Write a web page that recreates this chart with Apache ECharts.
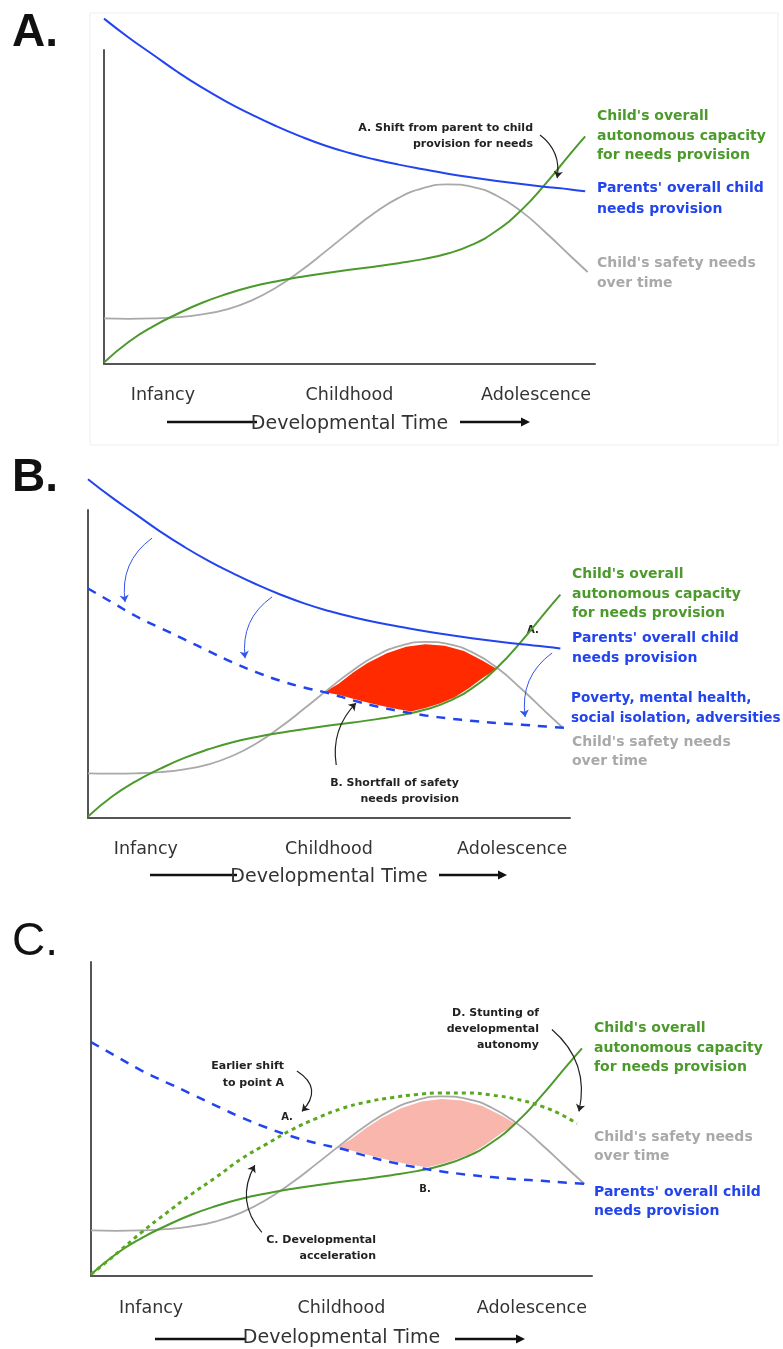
<!DOCTYPE html>
<html>
<head>
<meta charset="utf-8">
<script src="https://cdn.jsdelivr.net/npm/echarts@6/dist/echarts.min.js"></script>
<style>
html, body { margin: 0; padding: 0; background: #fff; }
#main { width: 783px; height: 1349px; }
</style>
</head>
<body>
<div id="main"></div>
<script>
// tick labels on the time axis
var stageValues = [12, 50, 88];
var stageLabels = ['Infancy', 'Childhood', 'Adolescence'];

// curves, [time, level], y axis runs 0..100 (parent line starts above the axis top)
var parentProvision = [[0, 110], [5, 104], [10, 98.5], [15, 93], [20, 88], [25, 83.5], [30, 79.5], [35, 75.8], [40, 72.5], [45, 69.6], [50, 67.2],
    [55, 65.2], [60, 63.5], [65, 62], [70, 60.6], [75, 59.4], [80, 58.3], [85, 57.3], [90, 56.4], [95, 55.6], [98, 55]];
var childCapacity = [[0, 0.5], [5, 7], [10, 12], [15, 16], [20, 19.5], [25, 22.3], [30, 24.6], [35, 26.3], [40, 27.7], [45, 28.9], [50, 30],
    [55, 31], [60, 32.1], [65, 33.4], [70, 35.2], [75, 38], [80, 42.5], [85, 49], [90, 57.5], [95, 67], [98, 72.5]];
var safetyNeeds = [[0, 14.5], [5, 14.4], [10, 14.5], [15, 14.9], [20, 15.8], [25, 17.4], [30, 20.2], [35, 24.3], [40, 29.6], [45, 35.7], [50, 42],
    [55, 48], [60, 52.9], [65, 56], [70, 57.2], [75, 56.4], [80, 53.6], [85, 48.6], [90, 41.8], [95, 34.4], [98.5, 29.3]];
var parentReduced = [[0, 74.5], [5, 70], [10, 65.5], [15, 61.7], [20, 58], [25, 54.2], [30, 50.5], [35, 47.3], [40, 44.5], [45, 42.3], [50, 40.5],
    [55, 38.2], [60, 36.2], [65, 34.6], [70, 33.3], [75, 32.3], [80, 31.5], [85, 30.8], [90, 30.3], [95, 29.7], [99, 29.3]];
var childAccelerated = [[0, 0.5], [5, 7], [10, 13.8], [15, 20], [20, 26], [25, 31.5], [30, 37.3], [35, 42], [40, 46.5], [45, 50.2], [50, 53.3],
    [55, 55.4], [60, 56.8], [65, 57.8], [70, 58.3], [75, 58.3], [80, 57.6], [85, 56.3], [90, 54], [94, 51.3], [97, 48.5]];

// shortfall of safety needs provision (outline of the shaded area)
var shortfallArea = [[49, 40.8], [52, 43.6], [55, 47.2], [58, 50.3], [62, 53.5], [66, 55.6], [70, 56.4], [74, 55.9], [78, 54.2], [82, 51], [84.8, 48.4],
    [82, 45.6], [79, 42.1], [76, 39.1], [73, 37.2], [70, 35.7], [67, 34.6], [63, 35.7], [59, 37.1], [55, 38.7], [52, 40]];

// annotation arrows, [from, to]
var arrowShiftA = [[88.8, 72.9], [92.3, 59.2]];
var arrowsDropB = [[[13.3, 90.9], [7.7, 70.1]], [[38.2, 71.8], [32.6, 51.9]], [[96.3, 53.6], [90.7, 32.8]]];
var arrowShortfallB = [[51.5, 17.2], [55.6, 37.3]];
var arrowStuntingC = [[92, 78.5], [97.4, 52.4]];
var arrowEarlierC = [[41.1, 65.3], [42.1, 52.4]];
var arrowAccelC = [[34.1, 13.9], [32.7, 35.3]];

var FONT = 'DejaVu Sans';
var BLUE = '#2244ee';
var GREEN = '#4b9a2b';
var GRAY = '#a9a9a9';

var myChart = echarts.init(document.getElementById('main'));

function xAxisFor(idx, margin, gap) {
    return {
        gridIndex: idx,
        type: 'value',
        min: 0,
        max: 100,
        name: 'Developmental Time',
        nameLocation: 'middle',
        nameGap: gap,
        nameTextStyle: { fontFamily: FONT, fontSize: 19, color: '#333' },
        axisLine: { lineStyle: { color: '#555', width: 2 } },
        axisTick: { show: false },
        splitLine: { show: false },
        axisLabel: {
            customValues: stageValues,
            formatter: function (v) { return stageLabels[stageValues.indexOf(v)]; },
            fontFamily: FONT,
            fontSize: 17.5,
            color: '#333',
            margin: margin,
        },
    };
}

function yAxisFor(idx) {
    return {
        gridIndex: idx,
        type: 'value',
        min: 0,
        max: 100,
        axisLine: { show: true, lineStyle: { color: '#555', width: 2 } },
        axisTick: { show: false },
        axisLabel: { show: false },
        splitLine: { show: false },
    };
}

function curve(idx, data, color, width, dash) {
    return {
        type: 'line',
        xAxisIndex: idx,
        yAxisIndex: idx,
        data: data,
        smooth: 0.5,
        symbol: 'none',
        clip: false,
        silent: true,
        lineStyle: { color: color, width: width, type: dash || 'solid' },
        z: 3,
    };
}

function arrows(idx, list, color, width, curveness) {
    return {
        type: 'lines',
        coordinateSystem: 'cartesian2d',
        xAxisIndex: idx,
        yAxisIndex: idx,
        symbol: ['none', 'arrow'],
        symbolSize: 7,
        silent: true,
        lineStyle: { color: color, width: width, curveness: curveness, opacity: 1 },
        data: list.map(function (c) { return { coords: c }; }),
        z: 4,
    };
}

function shaded(idx, color) {
    return {
        type: 'custom',
        xAxisIndex: idx,
        yAxisIndex: idx,
        data: shortfallArea,
        silent: true,
        z: 1,
        renderItem: function (params, api) {
            if (params.dataIndex !== 0) return;
            return {
                type: 'polygon',
                shape: { points: shortfallArea.map(function (p) { return api.coord(p); }) },
                style: { fill: color },
            };
        },
    };
}

function text(x, y, str, color, opts) {
    opts = opts || {};
    return {
        type: 'text',
        x: x,
        y: y,
        silent: true,
        style: {
            text: str,
            fill: color,
            font: (opts.weight || 'bold') + ' ' + (opts.size || 14) + 'px "' + (opts.family || FONT) + '"',
            align: opts.align || 'left',
            verticalAlign: 'middle',
            lineHeight: opts.lh || 19.5,
        },
    };
}

function timeArrow(x1, x2, x3, x4, y) {
    return [
        { type: 'line', silent: true, shape: { x1: x1, y1: y, x2: x2, y2: y }, style: { stroke: '#111', lineWidth: 2.5 } },
        { type: 'line', silent: true, shape: { x1: x3, y1: y, x2: x4 - 6, y2: y }, style: { stroke: '#111', lineWidth: 2.5 } },
        { type: 'polygon', silent: true, shape: { points: [[x4 - 9, y - 4.5], [x4, y], [x4 - 9, y + 4.5]] }, style: { fill: '#111' } },
    ];
}

var graphics = [
    { type: 'rect', silent: true, shape: { x: 90, y: 13, width: 688, height: 432 }, style: { fill: 'none', stroke: '#eeeeee', lineWidth: 1 } },

    // panel A
    text(12, 33, 'A.', '#111', { size: 46, family: 'Liberation Sans' }),
    text(533, 136, 'A. Shift from parent to child\nprovision for needs', '#222', { size: 11, align: 'right', lh: 16 }),
    text(597, 136, "Child's overall\nautonomous capacity\nfor needs provision", GREEN),
    text(597, 198.5, "Parents' overall child\nneeds provision", BLUE, { lh: 21 }),
    text(597, 273.5, "Child's safety needs\nover time", GRAY),

    // panel B
    text(12, 478, 'B.', '#111', { size: 46, family: 'Liberation Sans' }),
    text(527, 630, 'A.', '#222', { size: 10 }),
    text(459, 791, 'B. Shortfall of safety\nneeds provision', '#222', { size: 11, align: 'right', lh: 16 }),
    text(572, 594, "Child's overall\nautonomous capacity\nfor needs provision", GREEN),
    text(572, 648.5, "Parents' overall child\nneeds provision", BLUE),
    text(571, 708.5, 'Poverty, mental health,\nsocial isolation, adversities', BLUE, { size: 13.6 }),
    text(572, 752, "Child's safety needs\nover time", GRAY),

    // panel C
    text(12, 942, 'C.', '#111', { size: 46, weight: 'normal', family: 'Liberation Sans' }),
    text(539, 1029, 'D. Stunting of\ndevelopmental\nautonomy', '#222', { size: 11, align: 'right', lh: 16 }),
    text(284, 1074.5, 'Earlier shift\nto point A', '#222', { size: 11, align: 'right', lh: 17 }),
    text(287, 1117, 'A.', '#222', { size: 10, align: 'center' }),
    text(425, 1189, 'B.', '#222', { size: 10, align: 'center' }),
    text(376, 1248, 'C. Developmental\nacceleration', '#222', { size: 11, align: 'right', lh: 16 }),
    text(594, 1048, "Child's overall\nautonomous capacity\nfor needs provision", GREEN),
    text(594, 1147, "Child's safety needs\nover time", GRAY),
    text(594, 1202, "Parents' overall child\nneeds provision", BLUE),
]
    .concat(timeArrow(167, 257, 460, 530, 422))
    .concat(timeArrow(150, 237, 439, 507, 875))
    .concat(timeArrow(155, 245, 455, 525, 1339));

var option = {
    backgroundColor: '#fff',
    animation: false,
    grid: [
        { left: 104, top: 50, width: 491, height: 314 },
        { left: 88, top: 510, width: 482, height: 308 },
        { left: 91, top: 962, width: 501, height: 317 },
    ],
    xAxis: [xAxisFor(0, 22, 51), xAxisFor(1, 22, 50), xAxisFor(2, 23, 53)],
    yAxis: [yAxisFor(0), yAxisFor(1), yAxisFor(2)],
    series: [
        // A
        curve(0, safetyNeeds, GRAY, 1.8),
        curve(0, childCapacity, GREEN, 2),
        curve(0, parentProvision, BLUE, 2),
        arrows(0, [arrowShiftA], '#222', 1.2, 0.3),
        // B
        shaded(1, '#ff2a00'),
        curve(1, safetyNeeds, GRAY, 1.8),
        curve(1, childCapacity, GREEN, 2),
        curve(1, parentProvision, BLUE, 2),
        curve(1, parentReduced, BLUE, 2.5, [9, 8]),
        arrows(1, arrowsDropB, '#3355ee', 1, -0.3),
        arrows(1, [arrowShortfallB], '#222', 1.2, 0.25),
        // C
        shaded(2, '#f9b6ac'),
        curve(2, safetyNeeds, GRAY, 1.8),
        curve(2, childCapacity, GREEN, 2),
        curve(2, parentReduced, BLUE, 2.5, [9, 8]),
        curve(2, childAccelerated, '#5aa81e', 3, [4, 4]),
        arrows(2, [arrowStuntingC], '#222', 1.2, 0.3),
        arrows(2, [arrowEarlierC], '#222', 1.2, 0.6),
        arrows(2, [arrowAccelC], '#222', 1.2, 0.35),
    ],
    graphic: graphics,
};

myChart.setOption(option, true);
</script>
</body>
</html>
